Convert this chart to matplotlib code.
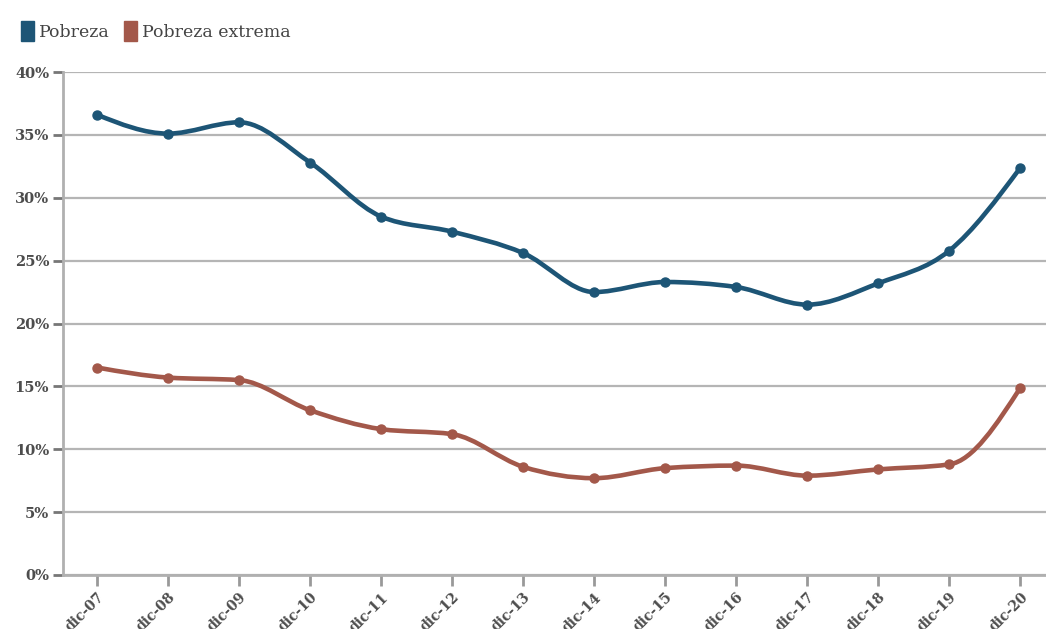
import numpy as np
import matplotlib
matplotlib.use("Agg")
import matplotlib.pyplot as plt
from matplotlib.path import Path
from matplotlib.patches import PathPatch, FancyBboxPatch

# valores anuales a diciembre (%)
periodos = ["dic-07", "dic-08", "dic-09", "dic-10", "dic-11", "dic-12", "dic-13",
            "dic-14", "dic-15", "dic-16", "dic-17", "dic-18", "dic-19", "dic-20"]
pobreza = [36.6, 35.1, 36.0, 32.8, 28.5, 27.3, 25.6,
           22.5, 23.3, 22.9, 21.5, 23.2, 25.8, 32.4]
pobreza_extrema = [16.5, 15.7, 15.5, 13.1, 11.6, 11.2, 8.6,
                   7.7, 8.5, 8.7, 7.9, 8.4, 8.8, 14.9]

azul = "#1d5576"
rojo = "#a3584a"
gris_txt = "#4d4d4d"
fuente = "DejaVu Serif"


def monotone_path(x, y):
    # curva monotona tipo d3.curveMonotoneX, armada con beziers cubicos
    x = np.asarray(x, float)
    y = np.asarray(y, float)
    n = len(x)
    h = np.diff(x)
    s = np.diff(y) / h
    t = np.zeros(n)
    for i in range(1, n - 1):
        p = (s[i - 1] * h[i] + s[i] * h[i - 1]) / (h[i - 1] + h[i])
        t[i] = (np.sign(s[i - 1]) + np.sign(s[i])) * min(abs(s[i - 1]), abs(s[i]), 0.5 * abs(p))
    t[0] = (3 * s[0] - t[1]) / 2
    t[-1] = (3 * s[-1] - t[-2]) / 2
    verts = [(x[0], y[0])]
    codes = [Path.MOVETO]
    for i in range(n - 1):
        dx = (x[i + 1] - x[i]) / 3
        verts += [(x[i] + dx, y[i] + dx * t[i]),
                  (x[i + 1] - dx, y[i + 1] - dx * t[i + 1]),
                  (x[i + 1], y[i + 1])]
        codes += [Path.CURVE4] * 3
    return Path(verts, codes)


fig = plt.figure(figsize=(10.46, 6.29), dpi=100)
ax = fig.add_axes([63 / 1046, 54 / 629, 983 / 1046, 503 / 629])

xs = np.arange(len(periodos))
for serie, color in [(pobreza, azul), (pobreza_extrema, rojo)]:
    ax.add_patch(PathPatch(monotone_path(xs, serie), facecolor="none",
                           edgecolor=color, lw=3.3, zorder=3, capstyle="round"))
    ax.plot(xs, serie, "o", color=color, ms=6.5, zorder=4)

ax.set_ylim(0, 40)
ax.set_xlim(-0.48, 13.36)
ax.set_yticks(np.arange(0, 41, 5))
ax.set_yticklabels([f"{v}%" for v in range(0, 41, 5)])
ax.set_xticks(xs)
ax.set_xticklabels(periodos, rotation=45, ha="right", rotation_mode="anchor")

ax.grid(axis="y", color="#b5b5b5", lw=1.6)
ax.set_axisbelow(True)
for lado in ["top", "right"]:
    ax.spines[lado].set_visible(False)
for lado in ["left", "bottom"]:
    ax.spines[lado].set_color("#b0b0b0")
    ax.spines[lado].set_linewidth(2)

ax.tick_params(axis="y", length=7, width=2, color="#777777", pad=3,
               labelsize=10.5, labelcolor=gris_txt)
ax.tick_params(axis="x", length=8, width=2, color="#999999", pad=3,
               labelsize=10, labelcolor=gris_txt)
for lab in ax.get_xticklabels() + ax.get_yticklabels():
    lab.set_fontweight("bold")
    lab.set_family(fuente)

# leyenda arriba a la izquierda
handles = [FancyBboxPatch((0, 0), 1, 1, boxstyle="round,pad=0.1", color=azul),
           FancyBboxPatch((0, 0), 1, 1, boxstyle="round,pad=0.1", color=rojo)]
fig.legend(handles, ["Pobreza", "Pobreza extrema"], loc="upper left",
           bbox_to_anchor=(0.0, 1.0), ncol=2, frameon=False,
           prop={"family": fuente, "size": 12.5},
           handlelength=0.75, handleheight=1.4, handletextpad=0.3, columnspacing=0.8,
           labelcolor="#444444", borderaxespad=0.8)

fig.savefig("out.png", dpi=100)
